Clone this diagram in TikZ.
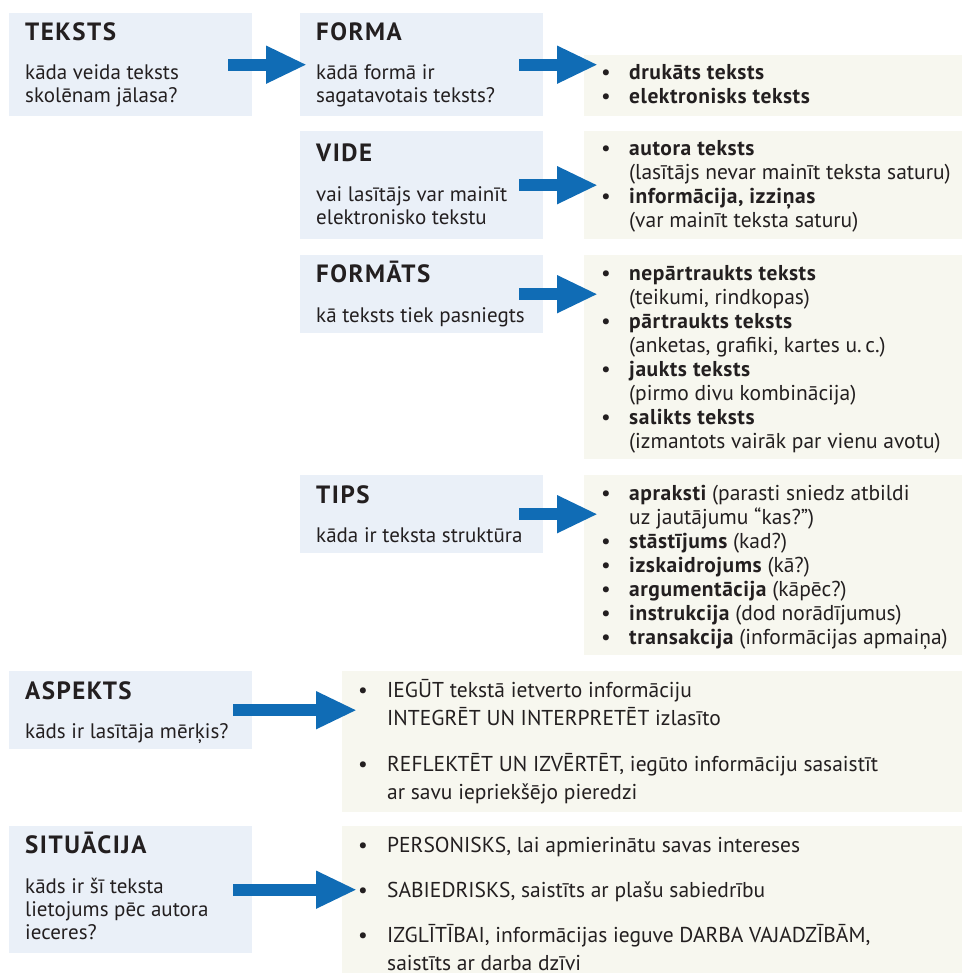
\documentclass[tikz,border=0pt]{standalone}
\usepackage{fontspec}
\setmainfont{PT Sans}
\usepackage{xcolor}
\usetikzlibrary{positioning}
\usetikzlibrary{arrows.meta}
\definecolor{askblue}{RGB}{234,240,248}
\definecolor{listcream}{RGB}{247,247,239}
\definecolor{arrowblue}{RGB}{16,108,181}
\definecolor{inkgray}{RGB}{35,31,32}
\newcommand{\kw}[1]{{\bfseries\addfontfeature{LetterSpace=2.5}#1}}

\begin{document}
\begin{tikzpicture}
    [x=1pt, y=-1pt,
     every node/.style={inner sep=0pt, text=inkgray},
     askbox/.style={fill=askblue, anchor=north west},
     listbox/.style={fill=listcream, anchor=north west},
     heading/.style={anchor=base west, font=\fontsize{25}{28}\selectfont\bfseries\addfontfeature{LetterSpace=6}},
     question/.style={anchor=base west, font=\fontsize{21}{23}\selectfont},
     items/.style={anchor=base west, font=\fontsize{21.5}{24}\selectfont},
     bigarrow/.style={draw=arrowblue, line width=12pt, -{Triangle[length=41pt, width=35pt]}}]
    \useasboundingbox (0, 0) rectangle (962, 973);

    % left column
    \node (teksts) [askbox, minimum width=243pt, minimum height=103pt] at (9, 13) {};
    \node (aspekts) [askbox, minimum width=243pt, minimum height=78pt] at (9, 671) {};
    \node (situacija) [askbox, minimum width=243pt, minimum height=127pt] at (9, 826) {};

    % middle column
    \node (forma) [askbox, minimum width=243pt, minimum height=103pt] at (300, 13) {};
    \node (vide) [askbox, minimum width=243pt, minimum height=108pt] at (300, 131) {};
    \node (formats) [askbox, minimum width=243pt, minimum height=78pt] at (300, 255) {};
    \node (tips) [askbox, minimum width=243pt, minimum height=78pt] at (300, 475) {};

    % answer boxes
    \node (formalist) [listbox, minimum width=378pt, minimum height=61pt] at (584, 55) {};
    \node (videlist) [listbox, minimum width=378pt, minimum height=108pt] at (584, 131) {};
    \node (formatslist) [listbox, minimum width=378pt, minimum height=204pt] at (584, 255) {};
    \node (tipslist) [listbox, minimum width=378pt, minimum height=180pt] at (584, 475) {};
    \node (aspektslist) [listbox, minimum width=620pt, minimum height=141pt] at (342, 671) {};
    \node (situacijalist) [listbox, minimum width=620pt, minimum height=147pt] at (342, 826) {};

    % headings and questions
    \node (t1) [heading] at (25, 41) {TEKSTS};
    \node (q1) [question] at (25, 80) {
      \begin{tabular}[t]{@{}l@{}}
        kāda veida teksts \\
        skolēnam jālasa?
      \end{tabular}
    };
    \node (t2) [heading] at (316, 41) {FORMA};
    \node (q2) [question] at (316, 80) {
      \begin{tabular}[t]{@{}l@{}}
        kādā formā ir \\
        sagatavotais teksts?
      \end{tabular}
    };
    \node (t3) [heading] at (316, 162) {VIDE};
    \node (q3) [question] at (316, 202) {
      \begin{tabular}[t]{@{}l@{}}
        vai lasītājs var mainīt \\
        elektronisko tekstu
      \end{tabular}
    };
    \node (t4) [heading] at (316, 283) {FORMĀTS};
    \node (q4) [question] at (316, 322) {kā teksts tiek pasniegts};
    \node (t5) [heading] at (316, 503) {TIPS};
    \node (q5) [question] at (316, 542) {kāda ir teksta struktūra};
    \node (t6) [heading] at (25, 699) {ASPEKTS};
    \node (q6) [question] at (25, 738) {kāds ir lasītāja mērķis?};
    \node (t7) [heading] at (25, 853) {SITUĀCIJA};
    \node (q7) [question] at (25, 893) {
      \begin{tabular}[t]{@{}l@{}}
        kāds ir šī teksta \\
        lietojums pēc autora \\
        ieceres?
      \end{tabular}
    };

    % lists
    \node (l2) [items] at (601, 80) {
      \begin{tabular}[t]{@{}p{28pt}@{}l@{}}
        • & \kw{drukāts teksts} \\
        • & \kw{elektronisks teksts}
      \end{tabular}
    };
    \node (l3) [items] at (601, 156) {
      \begin{tabular}[t]{@{}p{28pt}@{}l@{}}
        • & \kw{autora teksts} \\
          & (lasītājs nevar mainīt teksta saturu) \\
        • & \kw{informācija, izziņas} \\
          & (var mainīt teksta saturu)
      \end{tabular}
    };
    \node (l4) [items] at (601, 280) {
      \begin{tabular}[t]{@{}p{28pt}@{}l@{}}
        • & \kw{nepārtraukts teksts} \\
          & (teikumi, rindkopas) \\
        • & \kw{pārtraukts teksts} \\
          & (anketas, grafiki, kartes u.\,c.) \\
        • & \kw{jaukts teksts} \\
          & (pirmo divu kombinācija) \\
        • & \kw{salikts teksts} \\
          & (izmantots vairāk par vienu avotu)
      \end{tabular}
    };
    \node (l5) [items] at (601, 500) {
      \begin{tabular}[t]{@{}p{28pt}@{}l@{}}
        • & \kw{apraksti} (parasti sniedz atbildi \\
          & uz jautājumu “kas?”) \\
        • & \kw{stāstījums} (kad?) \\
        • & \kw{izskaidrojums} (kā?) \\
        • & \kw{argumentācija} (kāpēc?) \\
        • & \kw{instrukcija} (dod norādījumus) \\
        • & \kw{transakcija} (informācijas apmaiņa)
      \end{tabular}
    };
    \node (l6) [items, font=\fontsize{21.5}{28}\selectfont] at (358, 697) {
      \begin{tabular}[t]{@{}p{29pt}@{}l@{}}
        • & IEGŪT tekstā ietverto informāciju \\
          & INTEGRĒT UN INTERPRETĒT izlasīto \\[18pt]
        • & REFLEKTĒT UN IZVĒRTĒT, iegūto informāciju sasaistīt \\
          & ar savu iepriekšējo pieredzi
      \end{tabular}
    };
    \node (l7) [items, font=\fontsize{21.5}{28}\selectfont] at (358, 852) {
      \begin{tabular}[t]{@{}p{29pt}@{}l@{}}
        • & PERSONISKS, lai apmierinātu savas intereses \\[17pt]
        • & SABIEDRISKS, saistīts ar plašu sabiedrību \\[17pt]
        • & IZGLĪTĪBAI, informācijas ieguve DARBA VAJADZĪBĀM, \\
          & saistīts ar darba dzīvi
      \end{tabular}
    };

    % arrows
    \draw [bigarrow] ([xshift=-24pt]teksts.east) -- ([xshift=7pt]teksts.east -| forma.west);
    \draw [bigarrow] ([xshift=-24pt]forma.east) -- ([xshift=14pt]forma.east -| formalist.west);
    \draw [bigarrow] ([xshift=-24pt]vide.east) -- ([xshift=14pt]vide.east -| videlist.west);
    \draw [bigarrow] ([xshift=-24pt]formats.east) -- ([xshift=14pt]formats.east -| formatslist.west);
    \draw [bigarrow] ([xshift=-24pt]tips.east) -- ([xshift=14pt]tips.east -| tipslist.west);
    \draw [bigarrow] ([xshift=-19pt]aspekts.east) -- ([xshift=15pt]aspekts.east -| aspektslist.west);
    \draw [bigarrow] ([xshift=-19pt]situacija.east) -- ([xshift=15pt]situacija.east -| situacijalist.west);
  \end{tikzpicture}
\end{document}
